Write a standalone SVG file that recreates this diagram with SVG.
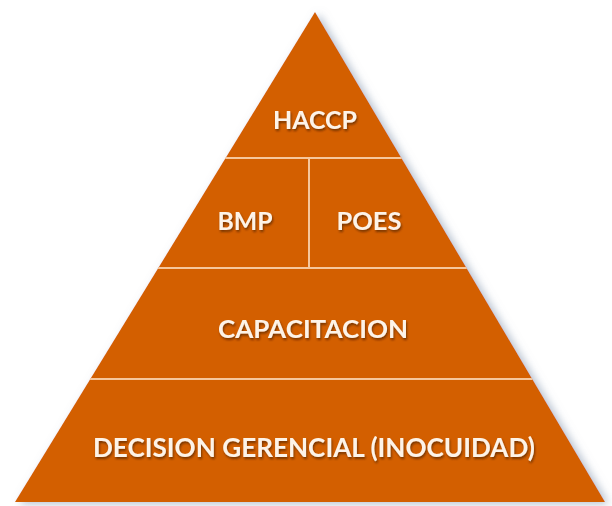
<svg xmlns="http://www.w3.org/2000/svg" width="612" height="506" viewBox="0 0 612 506">
  <defs>
    <filter id="shadow" x="-10%" y="-10%" width="120%" height="120%">
      <feGaussianBlur in="SourceAlpha" stdDeviation="4"/>
      <feOffset dx="4" dy="2" result="b"/>
      <feFlood flood-color="#7a8ea8" flood-opacity="0.55"/>
      <feComposite in2="b" operator="in"/>
      <feMerge><feMergeNode/><feMergeNode in="SourceGraphic"/></feMerge>
    </filter>
    <filter id="tshadow" x="-10%" y="-30%" width="120%" height="160%">
      <feGaussianBlur in="SourceAlpha" stdDeviation="1"/>
      <feOffset dx="1" dy="1.5" result="b"/>
      <feFlood flood-color="#3a1a00" flood-opacity="0.6"/>
      <feComposite in2="b" operator="in"/>
      <feMerge><feMergeNode/><feMergeNode in="SourceGraphic"/></feMerge>
    </filter>
    <clipPath id="tri"><polygon points="315,12 15,502 605,502"/></clipPath>
  </defs>
  <style>
    .lbl { font-family: Lato, "Open Sans", "Liberation Sans", sans-serif; font-weight: bold; fill: #fdf3e8; text-anchor: middle; filter: url(#tshadow); }
    .div { stroke: #f6c79c; stroke-width: 2; fill: none; }
  </style>
  <rect width="612" height="506" fill="#ffffff"/>
  <g id="pyramid">
    <polygon points="315,12 15,502 605,502" fill="#d35f00" filter="url(#shadow)"/>
  </g>
  <g id="connectors" clip-path="url(#tri)">
    <line class="div" x1="200" y1="158" x2="430" y2="158"/>
    <line class="div" x1="130" y1="268" x2="500" y2="268"/>
    <line class="div" x1="60" y1="379" x2="570" y2="379"/>
    <line class="div" x1="309" y1="158" x2="309" y2="268"/>
  </g>
  <g id="haccp"><text class="lbl" x="315" y="129" font-size="24" textLength="84" lengthAdjust="spacingAndGlyphs">HACCP</text></g>
  <g id="bmp"><text class="lbl" x="245" y="230" font-size="24" textLength="55" lengthAdjust="spacingAndGlyphs">BMP</text></g>
  <g id="poes"><text class="lbl" x="369" y="230" font-size="24" textLength="65" lengthAdjust="spacingAndGlyphs">POES</text></g>
  <g id="capacitacion"><text class="lbl" x="313" y="338" font-size="24" textLength="190" lengthAdjust="spacingAndGlyphs">CAPACITACION</text></g>
  <g id="decision"><text class="lbl" x="314" y="457" font-size="26" textLength="442" lengthAdjust="spacingAndGlyphs">DECISION GERENCIAL (INOCUIDAD)</text></g>
</svg>
